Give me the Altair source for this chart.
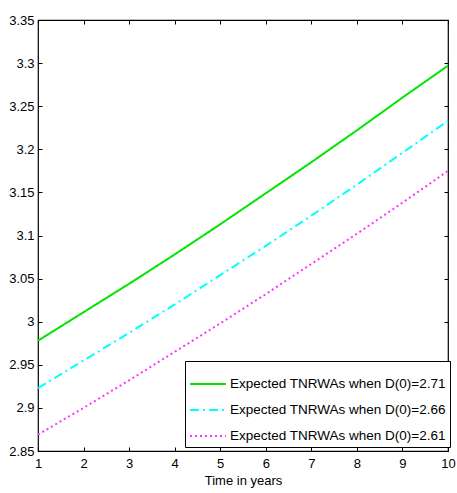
import altair as alt
import pandas as pd

years = [1, 2, 3, 4, 5, 6, 7, 8, 9, 10]
green_vals = [2.978, 3.011, 3.044, 3.078, 3.113, 3.149, 3.185, 3.222, 3.260, 3.297]
cyan_vals = [2.923, 2.955, 2.987, 3.020, 3.054, 3.088, 3.123, 3.159, 3.196, 3.233]
magenta_vals = [2.869, 2.900, 2.932, 2.965, 2.998, 3.032, 3.067, 3.102, 3.138, 3.175]
series_names = [
    "Expected TNRWAs when D(0)=2.71",
    "Expected TNRWAs when D(0)=2.66",
    "Expected TNRWAs when D(0)=2.61",
]
colors = ["#00e600", "#00ffff", "#ff33ff"]
dashes = [[1, 0], [9, 4, 2, 4], [2, 3]]
x_ticks = [1, 2, 3, 4, 5, 6, 7, 8, 9, 10]
y_ticks = [2.85, 2.9, 2.95, 3.0, 3.05, 3.1, 3.15, 3.2, 3.25, 3.3, 3.35]

rows = []
for name, vals in zip(series_names, [green_vals, cyan_vals, magenta_vals]):
    for t, v in zip(years, vals):
        rows.append({"t": t, "v": v, "s": name})
df = pd.DataFrame(rows)

FONT = "Liberation Sans, Arial"
xscale = alt.Scale(domain=[1, 10], nice=False, zero=False)
yscale = alt.Scale(domain=[2.85, 3.35], nice=False, zero=False)

legend_opts = dict(title=None, orient="none", legendX=147, legendY=341,
                   strokeColor="black", fillColor="white",
                   padding=4, symbolType="stroke", symbolSize=1296,
                   symbolStrokeWidth=2, rowPadding=-14, labelLimit=0,
                   labelOffset=3, labelFontSize=13.5, labelFont=FONT,
                   labelColor="black", cornerRadius=0)

lines = alt.Chart(df).mark_line(strokeWidth=2).encode(
    x=alt.X("t:Q", scale=xscale,
            axis=alt.Axis(values=x_ticks, title="Time in years", format="d",
                          orient="bottom", offset=-4, tickSize=4, domain=False,
                          labelPadding=6, grid=False, titlePadding=4,
                          labelFlush=False)),
    y=alt.Y("v:Q", scale=yscale,
            axis=alt.Axis(values=y_ticks, title=None, orient="left", offset=-4,
                          tickSize=4, domain=False, labelPadding=4, grid=False,
                          labelExpr="format(datum.value, '.3~f')")),
    color=alt.Color("s:N", sort=series_names,
                    scale=alt.Scale(domain=series_names, range=colors),
                    legend=alt.Legend(**legend_opts)),
    strokeDash=alt.StrokeDash("s:N", sort=series_names,
                              scale=alt.Scale(domain=series_names, range=dashes),
                              legend=alt.Legend(**legend_opts)),
)

mirror = alt.Chart(df).mark_point(opacity=0).encode(
    x=alt.X("t:Q", scale=xscale,
            axis=alt.Axis(values=x_ticks, title=None, orient="top", offset=-4,
                          tickSize=4, domain=False, labels=False, grid=False)),
    y=alt.Y("v:Q", scale=yscale,
            axis=alt.Axis(values=y_ticks, title=None, orient="right", offset=-4,
                          tickSize=4, domain=False, labels=False, grid=False)),
)

chart = alt.layer(mirror, lines).resolve_axis(x="independent", y="independent").properties(
    width=410, height=431,
    padding={"left": 38, "top": 20, "right": 9, "bottom": 42},
    autosize=alt.AutoSizeParams(type="none"),
).configure_view(stroke="black", strokeWidth=1.2).configure_axis(
    labelFont=FONT, labelFontSize=13, labelColor="black", tickColor="black",
    titleFont=FONT, titleFontSize=13, titleFontWeight="normal", titleColor="black",
)

chart.save("out.html", embed_options={"renderer": "svg", "actions": False})
